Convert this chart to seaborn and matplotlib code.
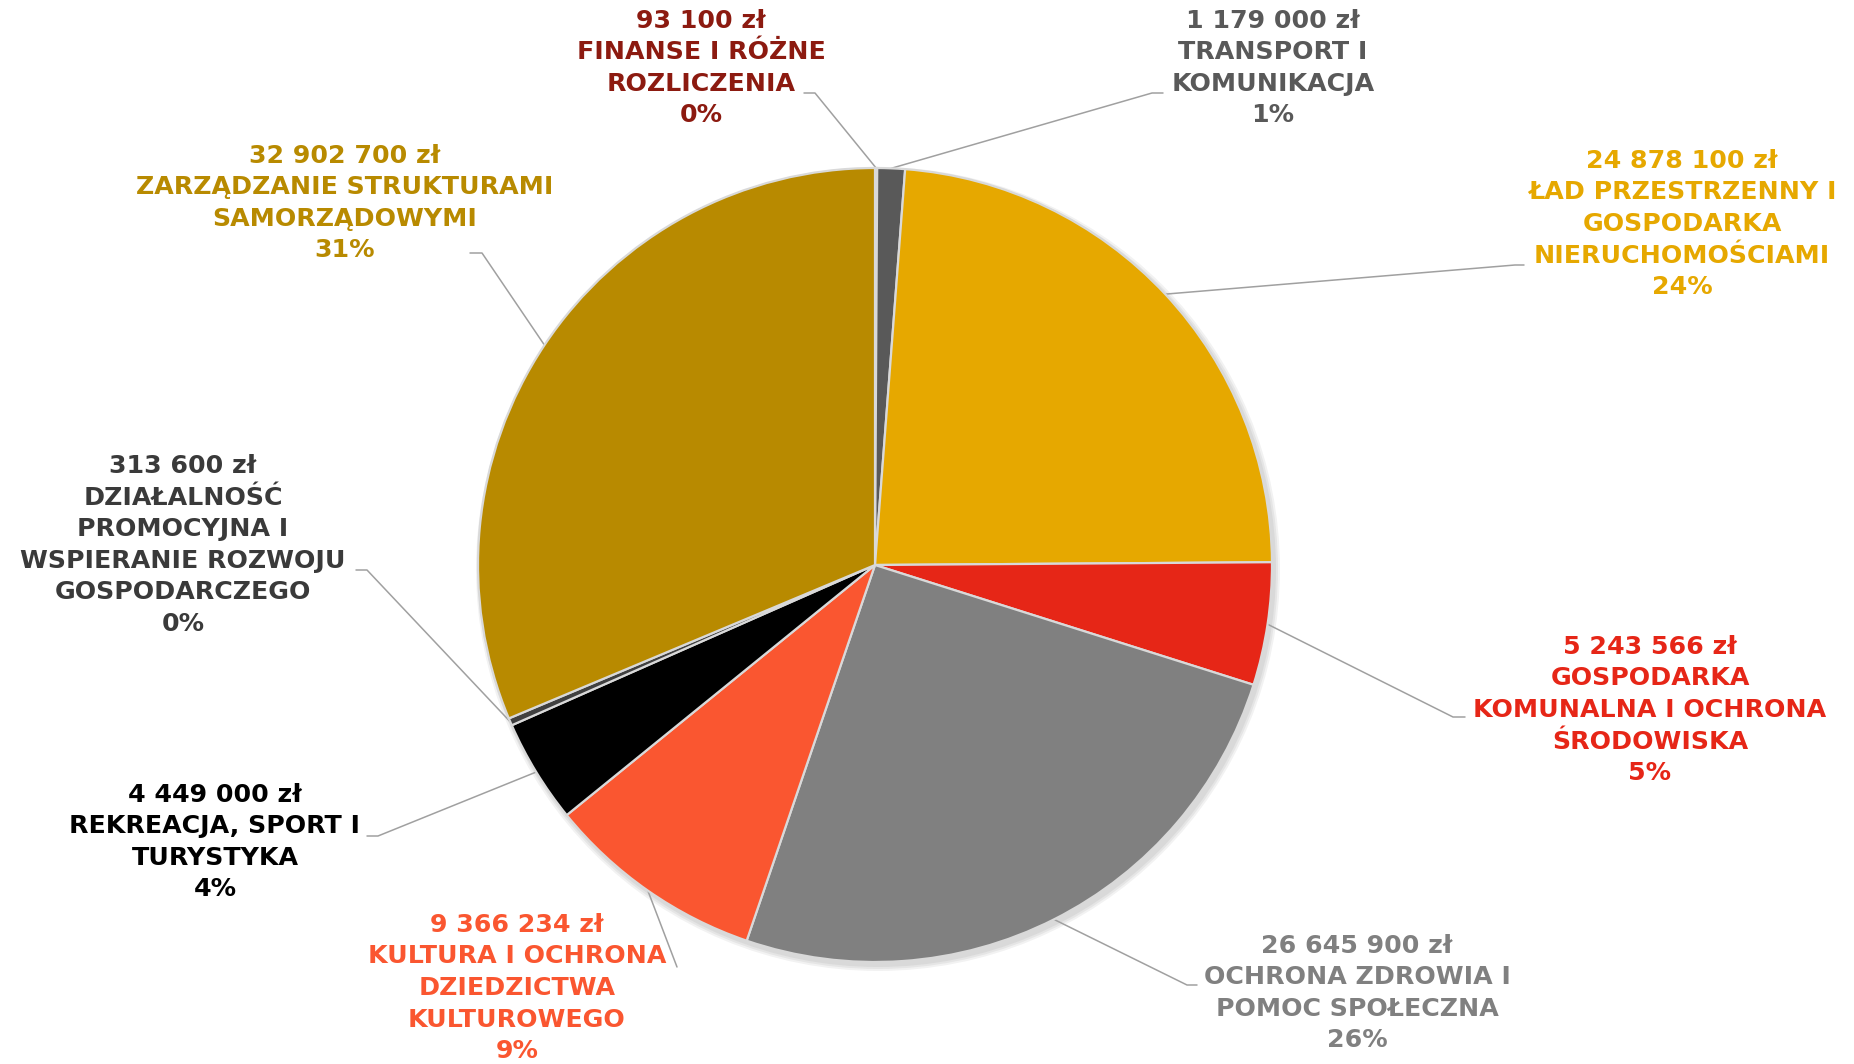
import matplotlib
matplotlib.use("Agg")
import matplotlib.pyplot as plt
from matplotlib.patches import Circle
import numpy as np
import seaborn as sns

# data (clockwise from 12 o'clock)
categories = [
    "FINANSE I RÓŻNE\nROZLICZENIA",
    "TRANSPORT I\nKOMUNIKACJA",
    "ŁAD PRZESTRZENNY I\nGOSPODARKA\nNIERUCHOMOŚCIAMI",
    "GOSPODARKA\nKOMUNALNA I OCHRONA\nŚRODOWISKA",
    "OCHRONA ZDROWIA I\nPOMOC SPOŁECZNA",
    "KULTURA I OCHRONA\nDZIEDZICTWA\nKULTUROWEGO",
    "REKREACJA, SPORT I\nTURYSTYKA",
    "DZIAŁALNOŚĆ\nPROMOCYJNA I\nWSPIERANIE ROZWOJU\nGOSPODARCZEGO",
    "ZARZĄDZANIE STRUKTURAMI\nSAMORZĄDOWYMI",
]
amounts = [93100, 1179000, 24878100, 5243566, 26645900, 9366234, 4449000, 313600, 32902700]
percent_labels = ["0%", "1%", "24%", "5%", "26%", "9%", "4%", "0%", "31%"]
slice_colors = ["#9B1C12", "#595959", "#E6A800", "#E62617", "#808080",
                "#FA5630", "#000000", "#404040", "#B88A00"]
text_colors = ["#8C1A10", "#595959", "#E6A800", "#E62617", "#808080",
               "#FA5630", "#000000", "#3A3A3A", "#B88A00"]

# layout (pixel coords of the 1854x1064 image, y down)
label_xy = [(701, 68), (1273, 68), (1682, 224), (1650, 710), (1357, 993),
            (517, 988), (215, 842), (183, 545), (345, 203)]
elbows = [[(815, 93), (804, 93)], [(1152, 93), (1163, 93)],
          [(1515, 265), (1524, 265)], [(1453, 717), (1465, 717)],
          [(1187, 985), (1197, 985)], [(677, 967)],
          [(378, 836), (367, 836)], [(367, 570), (356, 570)],
          [(482, 253), (470, 253)]]

W, H = 1854, 1064
CX, CY, R = 875, 565, 397

sns.set_theme(style="white")
plt.rcParams["font.family"] = ["DejaVu Sans"]

fig = plt.figure(figsize=(W / 100, H / 100), dpi=100)
ax = fig.add_axes([0, 0, 1, 1])


def fy(y):
    return H - y


# soft shadow behind the pie
for k, a in enumerate([0.05, 0.05, 0.05]):
    ax.add_patch(Circle((CX + 3, fy(CY) - 4), R + 1 + 2 * k, color="black",
                        alpha=a, lw=0, zorder=0))

wedges, _ = ax.pie(amounts, colors=slice_colors, startangle=90, counterclock=False,
                   center=(CX, fy(CY)), radius=R, frame=True,
                   wedgeprops=dict(edgecolor="#D9D9D9", linewidth=1.6, zorder=2))
ax.set_xlim(0, W)
ax.set_ylim(0, H)
ax.set_aspect("equal")
ax.axis("off")

for i, w in enumerate(wedges):
    mid = np.deg2rad((w.theta1 + w.theta2) / 2)
    ax_pt = (CX + R * np.cos(mid), fy(CY) + R * np.sin(mid))
    xs = [ax_pt[0]] + [p[0] for p in elbows[i]]
    ys = [ax_pt[1]] + [fy(p[1]) for p in elbows[i]]
    ax.plot(xs, ys, color="#A0A0A0", lw=1.1, zorder=1)

    amount_txt = f"{amounts[i]:,}".replace(",", " ") + " zł"
    txt = amount_txt + "\n" + categories[i] + "\n" + percent_labels[i]
    lx, ly = label_xy[i]
    ax.text(lx, fy(ly), txt, ha="center", va="center", multialignment="center",
            color=text_colors[i], fontsize=18.2, fontweight="bold", linespacing=1.4)

fig.savefig("out.png", dpi=100)
